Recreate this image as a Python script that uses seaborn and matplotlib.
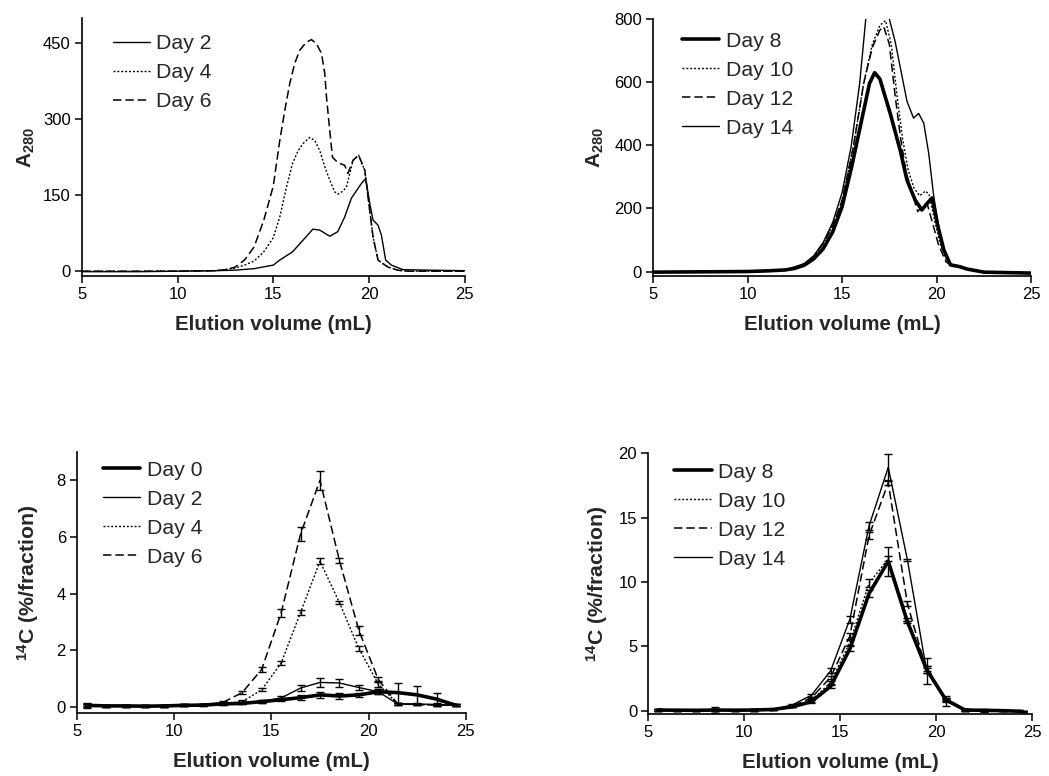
"""Elution profiles: A280 chromatograms (top) and 14C per fraction (bottom)."""
import matplotlib
matplotlib.use("Agg")
import matplotlib.pyplot as plt
import seaborn as sns

# ---- top left: A280, day 2/4/6 ------------------------------------------
TL_D2_X = [5, 8, 10, 12, 13, 14, 15, 15.34, 16.0, 16.55, 17.07, 17.43, 17.95,
           18.37, 18.73, 19.08, 19.6, 19.83, 20.04, 20.21, 20.47, 20.65, 20.87,
           21.17, 21.78, 23.2, 25]
TL_D2_Y = [-1, -1, 0, 1, 2, 5, 12, 22, 38, 61, 83, 81, 69, 78, 107, 144, 173,
           183, 134, 101, 91, 71, 22, 12, 3, 2, 1]
TL_D4_X = [5, 10, 12, 13, 13.5, 14, 14.5, 15, 15.34, 15.69, 16.0, 16.3, 16.56,
           16.9, 17.17, 17.43, 17.69, 17.95, 18.2, 18.37, 18.64, 18.82, 19.17,
           19.46, 19.78, 19.95, 20.21, 20.47, 20.72, 21.0, 21.5, 22, 25]
TL_D4_Y = [0, 0, 1, 6, 12, 20, 38, 66, 107, 166, 212, 238, 252, 264, 258, 238,
           206, 180, 157, 152, 158, 166, 219, 229, 199, 147, 68, 22, 15, 8, 2,
           0, 0]
TL_D6_X = [5, 10, 12, 12.5, 13, 13.5, 14, 14.5, 15, 15.34, 15.6, 15.86, 16.12,
           16.38, 16.73, 17.0, 17.25, 17.52, 17.69, 17.78, 17.95, 18.09, 18.38,
           18.73, 18.9, 19.17, 19.46, 19.78, 19.95, 20.21, 20.47, 20.72, 21.0,
           21.5, 22, 25]
TL_D6_Y = [0, 0, 1, 3, 8, 22, 48, 100, 168, 258, 317, 370, 410, 436, 452, 457,
           449, 430, 390, 344, 278, 225, 214, 209, 193, 219, 229, 199, 147, 68,
           22, 15, 8, 2, 0, 0]

# ---- top right: A280, day 8/10/12/14 -------------------------------------
TR_D8_X = [5, 10, 11, 12, 12.5, 13, 13.5, 14, 14.5, 15, 15.5, 16.0, 16.45,
           16.72, 17.0, 17.55, 18.07, 18.43, 18.86, 19.22, 19.5, 19.76, 20.03,
           20.38, 20.73, 21.17, 21.6, 22.5, 25]
TR_D8_Y = [-2, 0, 2, 5, 10, 20, 40, 72, 125, 205, 330, 470, 596, 630, 610, 500,
           385, 290, 227, 195, 216, 233, 153, 69, 21, 16, 8, -2, -5]
TR_D10_X = [5, 10, 12, 12.5, 13, 13.5, 14, 14.5, 15, 15.6, 16.14, 16.6, 17.0,
            17.3, 17.6, 17.9, 18.2, 18.5, 18.8, 19.1, 19.4, 19.6, 19.9, 20.2,
            20.6, 21.2, 21.6, 22.5, 25]
TR_D10_Y = [-2, 0, 5, 12, 24, 48, 88, 145, 225, 396, 596, 720, 780, 795, 720,
            560, 420, 320, 265, 240, 255, 245, 160, 85, 25, 16, 8, -2, -5]
TR_D12_X = [5, 10, 12, 12.5, 13, 13.5, 14, 14.5, 15, 15.6, 16.14, 16.6, 17.0,
            17.2, 17.5, 17.8, 18.1, 18.4, 18.7, 19.0, 19.3, 19.5, 19.8, 20.1,
            20.5, 21.2, 21.6, 22.5, 25]
TR_D12_Y = [-2, 0, 5, 12, 24, 48, 88, 145, 225, 396, 596, 710, 765, 776, 720,
            560, 420, 310, 250, 190, 210, 215, 150, 85, 30, 16, 8, -2, -5]
TR_D14_X = [5, 10, 12, 13, 13.5, 14, 14.5, 15, 15.48, 15.93, 16.3, 16.8, 17.3,
            17.5, 17.8, 18.1, 18.43, 18.78, 19.05, 19.32, 19.58, 19.85, 20.2,
            20.56, 20.9, 21.26, 21.6, 22.5, 25]
TR_D14_Y = [-2, 0, 5, 25, 50, 92, 155, 250, 396, 596, 830, 900, 860, 800, 730,
            640, 540, 486, 501, 470, 375, 237, 111, 37, 16, 18, 8, -3, -5]

# ---- bottom: 14C per 1 mL fraction --------------------------------------
FRAC_X = [5.5, 6.5, 7.5, 8.5, 9.5, 10.5, 11.5, 12.5, 13.5, 14.5,
          15.5, 16.5, 17.5, 18.5, 19.5, 20.5, 21.5, 22.5, 23.5, 24.5]

BL_D0 = [0.05, 0.03, 0.03, 0.02, 0.03, 0.05, 0.06, 0.10, 0.12, 0.18,
         0.25, 0.32, 0.42, 0.38, 0.42, 0.53, 0.50, 0.42, 0.27, 0.05]
BL_D0_ERR = [0.10, 0.04, 0.03, 0.03, 0.03, 0.03, 0.04, 0.04, 0.04, 0.05,
             0.06, 0.08, 0.10, 0.10, 0.06, 0.08, 0.35, 0.32, 0.22, 0.04]
BL_D2 = [0.05, 0.03, 0.03, 0.02, 0.03, 0.05, 0.06, 0.10, 0.12, 0.18,
         0.31, 0.66, 0.86, 0.84, 0.68, 0.53, 0.10, 0.10, 0.08, 0.05]
BL_D2_ERR = [0.05, 0.03, 0.03, 0.03, 0.03, 0.03, 0.03, 0.04, 0.04, 0.05,
             0.06, 0.12, 0.17, 0.15, 0.08, 0.08, 0.04, 0.04, 0.04, 0.04]
BL_D4 = [0.05, 0.03, 0.03, 0.02, 0.03, 0.05, 0.08, 0.12, 0.18, 0.60,
         1.54, 3.33, 5.14, 3.68, 2.06, 0.80, 0.10, 0.08, 0.06, 0.05]
BL_D4_ERR = [0.03, 0.03, 0.03, 0.03, 0.03, 0.03, 0.03, 0.04, 0.05, 0.05,
             0.06, 0.08, 0.10, 0.06, 0.10, 0.10, 0.04, 0.03, 0.03, 0.03]
BL_D6 = [0.05, 0.03, 0.03, 0.02, 0.03, 0.05, 0.08, 0.15, 0.50, 1.32,
         3.31, 6.10, 8.00, 5.17, 2.70, 0.96, 0.10, 0.08, 0.06, 0.05]
BL_D6_ERR = [0.03, 0.03, 0.03, 0.03, 0.03, 0.03, 0.03, 0.04, 0.05, 0.08,
             0.15, 0.25, 0.33, 0.10, 0.15, 0.10, 0.04, 0.03, 0.03, 0.03]

BR_D8 = [0.05, 0.04, 0.03, 0.05, 0.04, 0.05, 0.10, 0.30, 0.70, 1.90,
         4.80, 9.10, 11.6, 6.90, 3.20, 0.85, 0.05, 0.03, 0.00, -0.05]
BR_D8_ERR = [0.05, 0.05, 0.05, 0.20, 0.05, 0.05, 0.05, 0.05, 0.10, 0.10,
             0.20, 0.30, 1.10, 0.10, 0.30, 0.10, 0.05, 0.10, 0.05, 0.05]
BR_D10 = [0.05, 0.04, 0.03, 0.05, 0.04, 0.05, 0.10, 0.30, 0.80, 2.20,
          5.30, 9.90, 11.8, 7.10, 3.30, 0.90, 0.05, 0.03, 0.00, -0.05]
BR_D10_ERR = [0.05, 0.05, 0.05, 0.05, 0.05, 0.05, 0.05, 0.05, 0.10, 0.10,
              0.20, 0.30, 0.20, 0.10, 0.20, 0.10, 0.05, 0.05, 0.05, 0.05]
BR_D12 = [0.05, 0.04, 0.03, 0.05, 0.04, 0.05, 0.10, 0.35, 1.00, 2.60,
          5.80, 13.6, 17.7, 8.30, 3.10, 0.80, 0.05, 0.03, 0.00, -0.05]
BR_D12_ERR = [0.05, 0.05, 0.05, 0.05, 0.05, 0.05, 0.05, 0.05, 0.10, 0.10,
              0.20, 0.30, 0.20, 0.20, 0.20, 0.10, 0.05, 0.05, 0.05, 0.05]
BR_D14 = [0.05, 0.04, 0.03, 0.05, 0.04, 0.05, 0.10, 0.45, 1.20, 3.10,
          7.10, 14.35, 18.9, 11.7, 3.10, 0.75, 0.05, 0.03, 0.00, -0.05]
BR_D14_ERR = [0.05, 0.05, 0.05, 0.05, 0.05, 0.05, 0.05, 0.05, 0.10, 0.20,
              0.25, 0.30, 1.05, 0.10, 1.00, 0.40, 0.05, 0.05, 0.05, 0.05]

# line looks: thick solid, thin solid, dotted, dashed
THICK = dict(lw=2.6, ls="-")
THIN = dict(lw=1.0, ls="-")
DOTTED = dict(lw=1.0, ls=(0, (1.4, 1.4)))
DASHED = dict(lw=1.1, ls=(0, (5.5, 2.6)))

FONT = "Liberation Sans"
XLABEL = "Elution volume (mL)"


def _style_axis(ax, ylim, yticks):
    ax.set_xlim(5, 25)
    ax.set_ylim(*ylim)
    ax.set_xticks([5, 10, 15, 20, 25])
    ax.set_yticks(yticks)
    sns.despine(ax=ax)
    for side in ("left", "bottom"):
        ax.spines[side].set_linewidth(1.2)
        ax.spines[side].set_color("black")
    ax.tick_params(direction="out", length=5, width=1.1, labelsize=12,
                   color="black", labelcolor="black", pad=3)
    ax.set_xlabel(XLABEL, fontsize=14.8, fontweight="bold", labelpad=9)


def _line(ax, x, y, look, label):
    sns.lineplot(x=x, y=y, ax=ax, color="black", linewidth=look["lw"],
                 linestyle=look["ls"], label=label, errorbar=None, sort=False)


def _bars(ax, y, err, lw):
    ax.errorbar(FRAC_X, y, yerr=err, fmt="none", ecolor="black",
                elinewidth=lw, capsize=2.6, capthick=1.0)


def _legend(ax, anchor):
    ax.legend(loc="upper left", bbox_to_anchor=anchor, frameon=False,
              fontsize=15.3, handlelength=1.75, handletextpad=0.3,
              labelspacing=0.47, borderpad=0, borderaxespad=0)


def main():
    sns.set_theme(style="ticks")
    plt.rcParams["font.family"] = [FONT, "DejaVu Sans"]
    plt.rcParams["mathtext.fontset"] = "custom"
    plt.rcParams["mathtext.rm"] = FONT + ":bold"
    plt.rcParams["mathtext.default"] = "rm"

    fig = plt.figure(figsize=(10.49, 7.76), dpi=100)
    ax_tl = fig.add_axes([0.078, 0.644, 0.365, 0.333])
    ax_tr = fig.add_axes([0.6225, 0.644, 0.3605, 0.3315])
    ax_bl = fig.add_axes([0.0734, 0.0812, 0.3706, 0.3363])
    ax_br = fig.add_axes([0.618, 0.080, 0.366, 0.336])

    # top left
    _line(ax_tl, TL_D2_X, TL_D2_Y, THIN, "Day 2")
    _line(ax_tl, TL_D4_X, TL_D4_Y, DOTTED, "Day 4")
    _line(ax_tl, TL_D6_X, TL_D6_Y, DASHED, "Day 6")
    _style_axis(ax_tl, (-10, 500), [0, 150, 300, 450])
    ax_tl.set_ylabel("A$_{280}$", fontsize=15, fontweight="bold", labelpad=4)
    _legend(ax_tl, (0.081, 0.937))

    # top right
    _line(ax_tr, TR_D8_X, TR_D8_Y, THICK, "Day 8")
    _line(ax_tr, TR_D10_X, TR_D10_Y, DOTTED, "Day 10")
    _line(ax_tr, TR_D12_X, TR_D12_Y, DASHED, "Day 12")
    _line(ax_tr, TR_D14_X, TR_D14_Y, THIN, "Day 14")
    _style_axis(ax_tr, (-15, 800), [0, 200, 400, 600, 800])
    ax_tr.set_ylabel("A$_{280}$", fontsize=15, fontweight="bold", labelpad=6)
    _legend(ax_tr, (0.077, 0.95))

    # bottom left
    for y, err, look, lab in [(BL_D0, BL_D0_ERR, THICK, "Day 0"),
                              (BL_D2, BL_D2_ERR, THIN, "Day 2"),
                              (BL_D4, BL_D4_ERR, DOTTED, "Day 4"),
                              (BL_D6, BL_D6_ERR, DASHED, "Day 6")]:
        _line(ax_bl, FRAC_X, y, look, lab)
        _bars(ax_bl, y, err, 1.0)
    _style_axis(ax_bl, (-0.22, 9), [0, 2, 4, 6, 8])
    ax_bl.set_ylabel("$^{14}$C (%/fraction)", fontsize=15.3, fontweight="bold",
                     labelpad=11)
    _legend(ax_bl, (0.067, 0.966))

    # bottom right
    for y, err, look, lab in [(BR_D8, BR_D8_ERR, THICK, "Day 8"),
                              (BR_D10, BR_D10_ERR, DOTTED, "Day 10"),
                              (BR_D12, BR_D12_ERR, DASHED, "Day 12"),
                              (BR_D14, BR_D14_ERR, THIN, "Day 14")]:
        _line(ax_br, FRAC_X, y, look, lab)
        _bars(ax_br, y, err, 1.0)
    _style_axis(ax_br, (-0.25, 20), [0, 5, 10, 15, 20])
    ax_br.set_ylabel("$^{14}$C (%/fraction)", fontsize=15.3, fontweight="bold",
                     labelpad=6)
    _legend(ax_br, (0.068, 0.964))

    fig.savefig("out.png", dpi=100, facecolor="white")
    plt.close(fig)


if __name__ == "__main__":
    main()
